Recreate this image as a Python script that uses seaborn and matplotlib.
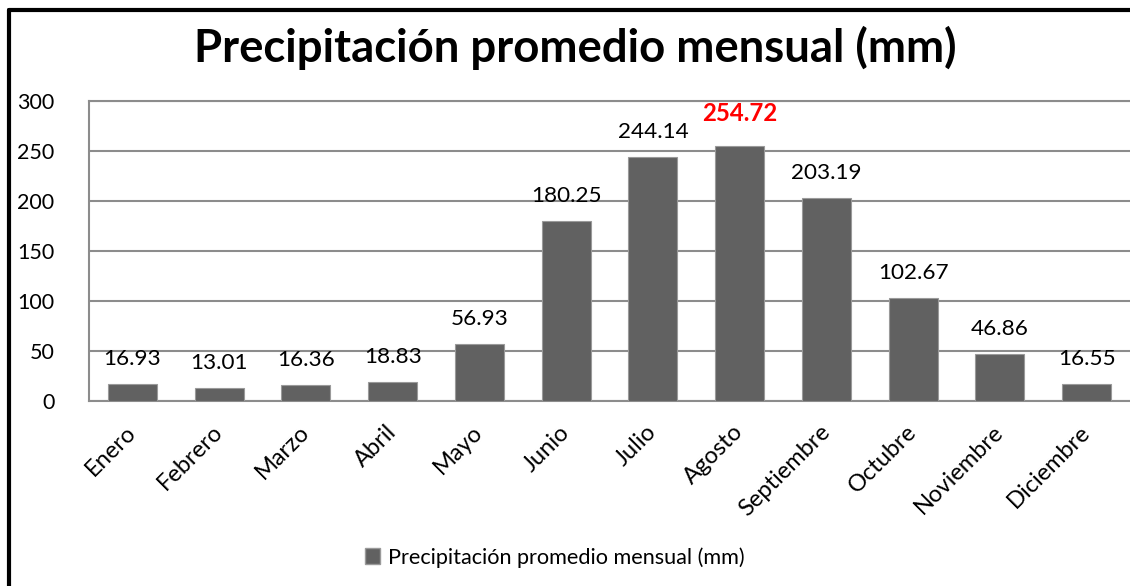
import matplotlib
matplotlib.use("Agg")
import matplotlib.pyplot as plt
from matplotlib.lines import Line2D
from matplotlib.patches import Patch
import seaborn as sns
import pandas as pd

meses = ["Enero", "Febrero", "Marzo", "Abril", "Mayo", "Junio", "Julio",
         "Agosto", "Septiembre", "Octubre", "Noviembre", "Diciembre"]
precipitacion = [16.93, 13.01, 16.36, 18.83, 56.93, 180.25, 244.14,
                 254.72, 203.19, 102.67, 46.86, 16.55]
y_ticks = [0, 50, 100, 150, 200, 250, 300]
serie = "Precipitación promedio mensual (mm)"

df = pd.DataFrame({"mes": meses, "mm": precipitacion})

sns.set_style("white")
plt.rcParams["font.family"] = ["Lato", "DejaVu Sans"]
plt.rcParams["text.color"] = "black"
plt.rcParams["xtick.color"] = "black"
plt.rcParams["ytick.color"] = "black"

bar_color = "#616161"
grid_color = "#8c8c8c"

fig = plt.figure(figsize=(11.3, 5.86), dpi=100)
ax = fig.add_axes([0.0788, 0.3157, 0.9212, 0.512])

sns.barplot(data=df, x="mes", y="mm", color=bar_color, width=0.565,
            saturation=1, edgecolor="#9a9a9a", linewidth=0.8, ax=ax, zorder=3)

ax.set_ylim(0, 300)
ax.set_yticks(y_ticks)
ax.yaxis.grid(True, color=grid_color, linewidth=1.5, zorder=0)
ax.set_axisbelow(True)
ax.set_xlabel("")
ax.set_ylabel("")
for side in ["left", "bottom", "top"]:
    ax.spines[side].set_color(grid_color)
    ax.spines[side].set_linewidth(1.5)
ax.spines["right"].set_visible(False)
ax.tick_params(axis="both", length=0)
ax.tick_params(axis="y", labelsize=15.5, pad=25)
ax.set_xticks(range(len(meses)))
ax.set_xticklabels(meses, rotation=45, ha="right", va="center",
                   rotation_mode="anchor", fontsize=17)
ax.tick_params(axis="x", pad=20)

# etiquetas de datos
idx_max = precipitacion.index(max(precipitacion))
for i, v in enumerate(precipitacion):
    if i == idx_max:
        ax.annotate(f"{v:.2f}", (i, v), xytext=(0, 21), textcoords="offset pixels",
                    ha="center", va="bottom", fontsize=17.3, fontweight="bold",
                    color="#ff0000")
    else:
        ax.annotate(f"{v:.2f}", (i, v), xytext=(0, 15), textcoords="offset pixels",
                    ha="center", va="bottom", fontsize=16.2, color="black")

fig.suptitle("Precipitación promedio mensual (mm)", x=0.509, y=0.918, va="center",
             fontsize=32.8, fontweight="bold")

handle = Patch(facecolor=bar_color, edgecolor="#9a9a9a")
fig.legend([handle], [serie], loc="center", bbox_to_anchor=(0.491, 0.049),
           frameon=False, fontsize=15.6, handlelength=0.7, handleheight=0.7,
           handletextpad=0.4)

# marco del gráfico
fig.add_artist(Line2D([0.008, 0.008], [0.0, 0.983], color="black", linewidth=3,
                      transform=fig.transFigure))
fig.add_artist(Line2D([0.008, 1.0], [0.983, 0.983], color="black", linewidth=3,
                      transform=fig.transFigure))

fig.savefig("out.png", dpi=100)
